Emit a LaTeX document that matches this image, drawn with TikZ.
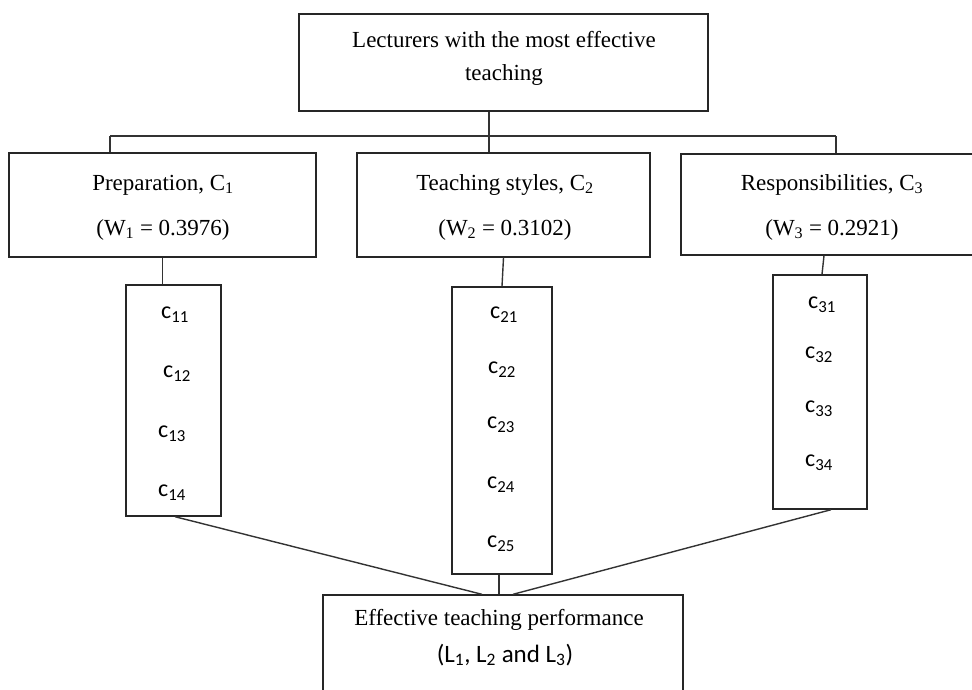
\documentclass[tikz,border=0pt]{standalone}
\usepackage{fontspec}
\setmainfont{Liberation Serif}
\newfontfamily\calib{Carlito}
\usetikzlibrary{calc}
\begin{document}
\begin{tikzpicture}[x=1pt,y=-1pt,
  box/.style={draw=black!85,line width=1.4pt,inner sep=0pt,minimum width=#1},
  conn/.style={draw=black!80,line width=1.4pt},
  lbl/.style={inner sep=0pt,font=\fontsize{23}{30}\selectfont,text height=0.5em,text depth=0.1em},
  clbl/.style={inner sep=0pt,font=\calib\fontsize{24}{26}\selectfont,text height=0.45em,text depth=0.1em}]
\useasboundingbox (0,0) rectangle (972,689);
\clip (0,0) rectangle (972,689);
% boxes
\node[box=409pt,minimum height=97pt] (top) at (503.5,62.5) {};
\node[box=307pt,minimum height=104pt] (prep) at (162.5,205) {};
\node[box=293pt,minimum height=104pt] (teach) at (503.5,205) {};
\node[box=302pt,minimum height=101pt] (resp) at (832,204.5) {};
\node[box=95pt,minimum height=231pt] (c1) at (173.5,400.5) {};
\node[box=100pt,minimum height=287pt] (c2) at (502,430.5) {};
\node[box=94pt,minimum height=234pt] (c3) at (820,392) {};
\node[box=360pt,minimum height=120pt] (out) at (503,655) {};
% labels
\node[lbl] (ttop1) at (504,45) {Lecturers with the most effective};
\node[lbl] (ttop2) at (504,78) {teaching};
\node[lbl] (tprep1) at (163,188) {Preparation, C\textsubscript{1}};
\node[lbl] (tprep2) at (163,233) {(W\textsubscript{1} = 0.3976)};
\node[lbl] (tteach1) at (505,188) {Teaching styles, C\textsubscript{2}};
\node[lbl] (tteach2) at (505,233) {(W\textsubscript{2} = 0.3102)};
\node[lbl] (tresp1) at (832,188) {Responsibilities, C\textsubscript{3}};
\node[lbl] (tresp2) at (832,233) {(W\textsubscript{3} = 0.2921)};
\node[clbl] (c11) at (175,317) {c\textsubscript{11}};
\node[clbl] (c12) at (177,376) {c\textsubscript{12}};
\node[clbl] (c13) at (172,436) {c\textsubscript{13}};
\node[clbl] (c14) at (172,495) {c\textsubscript{14}};
\node[clbl] (c21) at (504,317) {c\textsubscript{21}};
\node[clbl] (c22) at (502,372) {c\textsubscript{22}};
\node[clbl] (c23) at (501,427) {c\textsubscript{23}};
\node[clbl] (c24) at (501,487) {c\textsubscript{24}};
\node[clbl] (c25) at (501,546) {c\textsubscript{25}};
\node[clbl] (c31) at (822,307) {c\textsubscript{31}};
\node[clbl] (c32) at (819,357) {c\textsubscript{32}};
\node[clbl] (c33) at (819,411) {c\textsubscript{33}};
\node[clbl] (c34) at (819,465) {c\textsubscript{34}};
\node[lbl] (tout1) at (499,623) {Effective teaching performance};
\node[lbl,font=\calib\fontsize{25}{28}\selectfont] (tout2) at (505,660) {(L\textsubscript{1}, L\textsubscript{2} and L\textsubscript{3})};
% connectors
\coordinate (j) at (489,136);
\coordinate (jl) at (110,136);
\coordinate (jr) at (836,136);
\draw[conn] (top.south -| j) -- (teach.north -| j);
\draw[conn] (jl) -- (jr);
\draw[conn] (jl) -- (prep.north -| jl);
\draw[conn] (jr) -- (resp.north -| jr);
\draw[conn] (prep.south) -- (prep.south |- c1.north);
\draw[conn] (teach.south) -- (c2.north);
\draw[conn] ($(resp.south)+(-8,0)$) -- ($(c3.north)+(2,0)$);
\draw[conn] ($(c1.south)+(1.5,0)$) -- ($(out.north)+(-21,0)$);
\draw[conn] ($(c2.south)+(-3,0)$) -- ($(out.north)+(-4,0)$);
\draw[conn] ($(c3.south)+(11,0)$) -- ($(out.north)+(10,0)$);
\end{tikzpicture}
\end{document}
